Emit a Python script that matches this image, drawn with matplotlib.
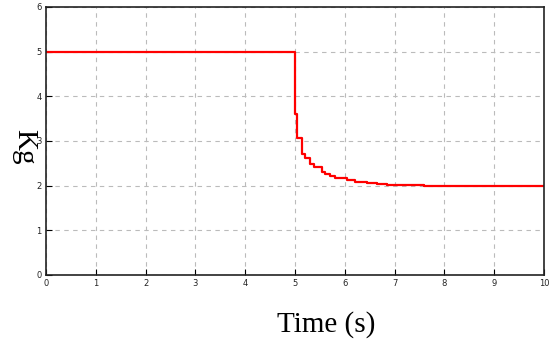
import matplotlib
matplotlib.use("Agg")
import matplotlib.pyplot as plt

# step data (time in s, mass in Kg)
t = [0, 5.0, 5.05, 5.15, 5.2, 5.3, 5.39, 5.54, 5.6, 5.7, 5.8, 6.04, 6.2, 6.44, 6.64, 6.85, 7.2, 7.6, 10]
v = [5.0, 3.60, 3.07, 2.72, 2.61, 2.48, 2.41, 2.31, 2.26, 2.22, 2.18, 2.13, 2.09, 2.06, 2.04, 2.025, 2.012, 2.0, 2.0]
xticks = list(range(0, 11))
yticks = list(range(0, 7))

fig = plt.figure(figsize=(5.5, 3.43), dpi=100)
ax = fig.add_axes([46/550, 68/343, 498/550, 268/343])
ax.step(t, v, where="post", color="#ff0000", lw=1.6)
ax.set_xlim(0, 10)
ax.set_ylim(0, 6)
ax.set_xticks(xticks)
ax.set_yticks(yticks)
ax.tick_params(direction="in", length=4, labelsize=6, labelcolor="#222222", width=0.8, pad=3)
ax.grid(True, color="#bbbbbb", linestyle=(0, (4, 4)), lw=0.8)
for s in ax.spines.values():
    s.set_linewidth(1.2)
    s.set_color("#222222")
fig.text(326/550, 1 - 325/343, "Time (s)", family="Liberation Serif", fontsize=21,
         ha="center", va="center")
fig.text(24/550, 1 - 147/343, "Kg", family="Liberation Serif", fontsize=21,
         rotation=-90, ha="center", va="center")
fig.savefig("out.png", dpi=100)
